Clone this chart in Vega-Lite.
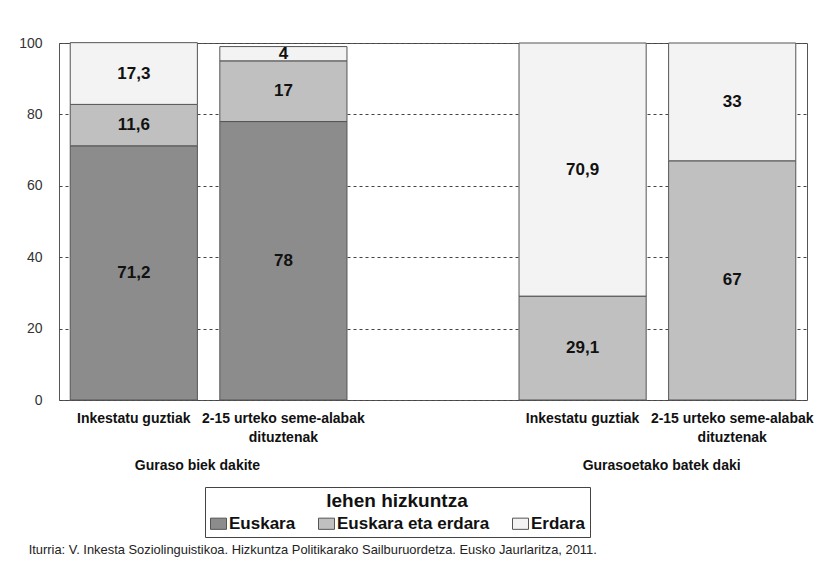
{
  "$schema": "https://vega.github.io/schema/vega-lite/v6.json",
  "width": 748,
  "height": 357,
  "autosize": {"type": "none"},
  "padding": {"left": 59, "top": 43, "right": 22, "bottom": 173},
  "background": "white",
  "config": {
    "font": "Liberation Sans",
    "locale": {"number": {"decimal": ",", "thousands": ".", "grouping": [3], "currency": ["", " €"]}},
    "view": {"stroke": "#555", "strokeWidth": 1}
  },
  "title": {
    "text": "Iturria: V. Inkesta Soziolinguistikoa. Hizkuntza Politikarako Sailburuordetza. Eusko Jaurlaritza, 2011.",
    "orient": "bottom",
    "anchor": "start",
    "frame": "bounds",
    "fontSize": 12.9,
    "fontWeight": "normal",
    "color": "#222",
    "offset": 6,
    "dx": 10
  },
  "datasets": {
    "bars": [
      {"cat": "A1", "hiz": "Euskara", "v": 71.2, "k": 1},
      {"cat": "A1", "hiz": "Euskara eta erdara", "v": 11.6, "k": 2},
      {"cat": "A1", "hiz": "Erdara", "v": 17.3, "k": 3},
      {"cat": "A2", "hiz": "Euskara", "v": 78, "k": 1},
      {"cat": "A2", "hiz": "Euskara eta erdara", "v": 17, "k": 2},
      {"cat": "A2", "hiz": "Erdara", "v": 4, "k": 3},
      {"cat": "B1", "hiz": "Euskara eta erdara", "v": 29.1, "k": 2},
      {"cat": "B1", "hiz": "Erdara", "v": 70.9, "k": 3},
      {"cat": "B2", "hiz": "Euskara eta erdara", "v": 67, "k": 2},
      {"cat": "B2", "hiz": "Erdara", "v": 33, "k": 3}
    ],
    "g1": [{"cat": "A1", "g": "Guraso biek dakite"}],
    "g2": [{"cat": "B2", "g": "Gurasoetako batek daki"}]
  },
  "layer": [
    {
      "data": {"name": "bars"},
      "mark": {"type": "bar", "stroke": "#555", "strokeWidth": 1},
      "encoding": {
        "x": {
          "field": "cat", "type": "nominal",
          "scale": {"domain": ["A1", "A2", "gap", "B1", "B2"], "paddingInner": 0.15, "paddingOuter": 0.075},
          "axis": {
            "title": null, "domain": false, "ticks": false, "labelAngle": 0,
            "labelFontSize": 14, "labelFontWeight": "bold", "labelColor": "#111",
            "labelPadding": 11, "labelLineHeight": 19,
            "labelExpr": "datum.value == 'gap' ? '' : (datum.value == 'A2' || datum.value == 'B2') ? ['2-15 urteko seme-alabak', 'dituztenak'] : 'Inkestatu guztiak'"
          }
        },
        "y": {
          "field": "v", "type": "quantitative", "stack": "zero",
          "scale": {"domain": [0, 100], "nice": false},
          "axis": {
            "title": null, "domain": false, "ticks": false,
            "values": [0, 20, 40, 60, 80, 100],
            "labelFontSize": 14, "labelColor": "#333", "labelPadding": 17,
            "grid": true, "gridColor": "#444", "gridDash": [3, 3], "gridWidth": 1
          }
        },
        "color": {
          "field": "hiz", "type": "nominal",
          "scale": {"domain": ["Euskara", "Euskara eta erdara", "Erdara"], "range": ["#8c8c8c", "#c0c0c0", "#f3f3f3"]},
          "legend": {
            "title": "lehen hizkuntza",
            "labelExpr": "datum.label == 'Erdara' ? 'Erdara\u00a0\u00a0\u00a0\u00a0\u00a0\u00a0\u00a0\u00a0\u00a0\u00a0\u00a0\u00a0\u00a0\u00a0\u00a0\u00a0\u00a0' : datum.label",
            "labelLimit": 400,
            "orient": "none",
            "legendX": 146,
            "legendY": 444,
            "direction": "horizontal",
            "titleAnchor": "middle",
            "titleFontSize": 19,
            "titleFontWeight": "bold",
            "titleColor": "#111",
            "titlePadding": 4,
            "labelFontSize": 17,
            "labelFontWeight": "bold",
            "labelColor": "#111",
            "labelOffset": 2,
            "columnPadding": 20,
            "symbolType": "M-1,-0.7H1V0.7H-1Z",
            "symbolSize": 256,
            "symbolStrokeColor": "#555",
            "symbolStrokeWidth": 1,
            "symbolOpacity": 1,
            "strokeColor": "#444",
            "padding": 5
          }
        },
        "order": {"field": "k", "type": "quantitative"}
      }
    },
    {
      "data": {"name": "bars"},
      "transform": [
        {"stack": "v", "groupby": ["cat"], "sort": [{"field": "k", "order": "ascending"}], "as": ["v0", "v1"]},
        {"calculate": "(datum.v0 + datum.v1) / 2", "as": "mid"}
      ],
      "mark": {"type": "text", "fontSize": 17, "fontWeight": "bold", "color": "#111", "baseline": "middle"},
      "encoding": {
        "x": {"field": "cat", "type": "nominal"},
        "y": {"field": "mid", "type": "quantitative"},
        "text": {"field": "v", "type": "quantitative", "format": ".1~f"}
      }
    },
    {
      "data": {"name": "g1"},
      "mark": {"type": "text", "fontSize": 14, "fontWeight": "bold", "color": "#111", "baseline": "alphabetic", "dy": 70},
      "encoding": {
        "x": {"field": "cat", "type": "nominal", "bandPosition": 1},
        "y": {"datum": 0},
        "text": {"field": "g"}
      }
    },
    {
      "data": {"name": "g2"},
      "mark": {"type": "text", "fontSize": 14, "fontWeight": "bold", "color": "#111", "baseline": "alphabetic", "dy": 70},
      "encoding": {
        "x": {"field": "cat", "type": "nominal", "bandPosition": -0.055},
        "y": {"datum": 0},
        "text": {"field": "g"}
      }
    }
  ]
}
